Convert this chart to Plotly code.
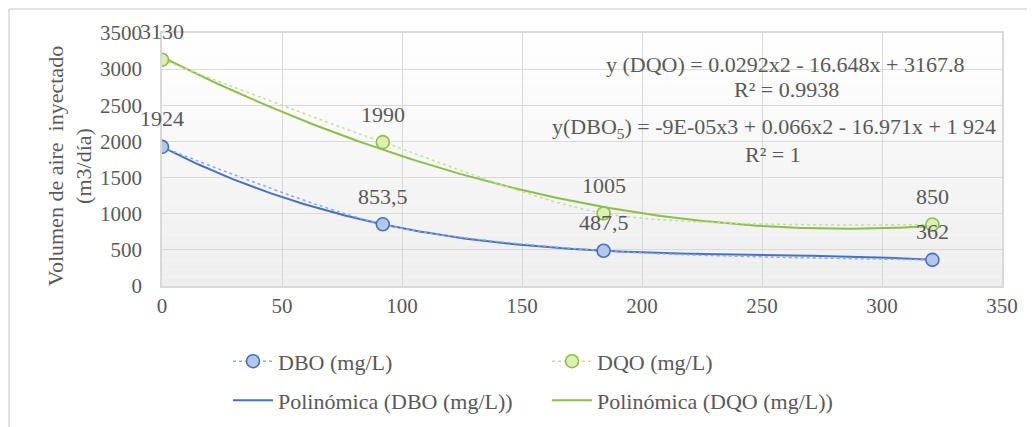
import numpy as np
import plotly.graph_objects as go

# ---- data ----
days = [0, 92, 184, 321]
dbo = [1924, 853.5, 487.5, 362]
dqo = [3130, 1990, 1005, 850]
dbo_labels = ["1924", "853,5", "487,5", "362"]
dqo_labels = ["3130", "1990", "1005", "850"]
x_ticks = [0, 50, 100, 150, 200, 250, 300, 350]
y_ticks = [0, 500, 1000, 1500, 2000, 2500, 3000, 3500]

FONT = "Times New Roman, Liberation Serif, serif"
TXT = "#595959"
BLUE = "#4472C4"
GREEN = "#8DBE45"

# page body has an 8px default margin: plot area placed accordingly
OFF = 8
L, T, PW, PH = 162, 33, 840, 252.7
BOTTOM = T + PH

# polynomial trendlines fitted from the data
xs = np.linspace(min(days), max(days), 300)
p_dbo = np.polyfit(days, dbo, 3)
p_dqo = np.polyfit(days, dqo, 2)

fig = go.Figure()

fig.add_trace(go.Scatter(
    x=xs, y=np.polyval(p_dbo, xs), mode="lines", name="Polinómica (DBO (mg/L))",
    line=dict(color=BLUE, width=2), legend="legend3", showlegend=True))
fig.add_trace(go.Scatter(
    x=xs, y=np.polyval(p_dqo, xs), mode="lines", name="Polinómica (DQO (mg/L))",
    line=dict(color=GREEN, width=2), legend="legend4", showlegend=True))
fig.add_trace(go.Scatter(
    x=days, y=dbo, mode="lines+markers", name="DBO (mg/L)",
    line=dict(color="#8FAADC", width=1.5, dash="dot", shape="spline", smoothing=0.8),
    marker=dict(size=13, color="#B4C7E7", line=dict(color=BLUE, width=1.6)),
    legend="legend", showlegend=True))
fig.add_trace(go.Scatter(
    x=days, y=dqo, mode="lines+markers", name="DQO (mg/L)",
    line=dict(color="#C5DF9B", width=1.5, dash="dot", shape="spline", smoothing=0.8),
    marker=dict(size=13, color="#DDF0B4", line=dict(color=GREEN, width=1.6)),
    legend="legend2", showlegend=True))

lab_font = dict(family=FONT, size=22, color=TXT)
annotations = []
for xv, yv, lab in zip(days, dbo, dbo_labels):
    annotations.append(dict(x=xv, y=yv, text=lab, showarrow=False, yshift=28,
                            xanchor="center", yanchor="middle", font=lab_font))
for xv, yv, lab in zip(days, dqo, dqo_labels):
    annotations.append(dict(x=xv, y=yv, text=lab, showarrow=False, yshift=28,
                            xanchor="center", yanchor="middle", font=lab_font))

def pa(px, py, text, **kw):
    d = dict(xref="paper", yref="paper", x=(px - L) / PW, y=(BOTTOM - py) / PH,
             text=text, showarrow=False, xanchor="center", yanchor="middle",
             font=lab_font)
    d.update(kw)
    return d

annotations += [
    pa(785, 64, "y (DQO) = 0.0292x2 - 16.648x + 3167.8"),
    pa(786, 89, "R² = 0.9938"),
    pa(774, 128, "y(DBO<sub>5</sub>) = -9E-05x3 + 0.066x2 - 16.971x + 1 924"),
    pa(773, 154, "R² = 1"),
    pa(70, 166, "Volumen de aire  inyectado<br>(m3/día)", textangle=-90),
]

# plot-area gradient (white to light gray) and outer chart border
shapes = []
n = 30
for i in range(n):
    t = i / (n - 1)
    c = int(round(255 - (255 - 238) * t))
    shapes.append(dict(type="rect", xref="paper", yref="paper", layer="below",
                       x0=0, x1=1, y0=1 - (i + 1) / n, y1=1 - i / n,
                       line=dict(width=0), fillcolor=f"rgb({c},{c},{c})"))
bx, by = (9 - L) / PW, (BOTTOM - 9) / PH
shapes.append(dict(type="line", xref="paper", yref="paper",
                   x0=bx, x1=bx, y0=by, y1=(BOTTOM - 440) / PH,
                   line=dict(color="#D9D9D9", width=1.5)))
shapes.append(dict(type="line", xref="paper", yref="paper",
                   x0=bx, x1=(1040 - L) / PW, y0=by, y1=by,
                   line=dict(color="#D9D9D9", width=1.5)))

leg_font = dict(family=FONT, size=22, color=TXT)
def leg(xpx, ypx):
    return dict(x=(xpx - L) / PW, y=(BOTTOM - ypx) / PH, xanchor="left",
                yanchor="middle", orientation="v", font=leg_font,
                bgcolor="rgba(0,0,0,0)", itemwidth=40, visible=True)

axis_common = dict(showgrid=True, gridcolor="#D9D9D9", gridwidth=1.3, zeroline=False,
                   showline=True, linecolor="#D9D9D9", linewidth=1.5, mirror=True,
                   ticks="", tickfont=dict(family=FONT, size=21, color=TXT))

fig.update_layout(
    width=1035 - OFF, height=427 - OFF,
    margin=dict(l=L - OFF, r=33, t=T - OFF, b=427 - OFF - (T - OFF) - PH, autoexpand=False),
    paper_bgcolor="white", plot_bgcolor="white",
    font=dict(family=FONT, color=TXT),
    showlegend=True,
    xaxis=dict(range=[0, 350], tickvals=x_ticks, **axis_common),
    yaxis=dict(range=[0, 3500], tickvals=y_ticks, ticklabelstandoff=14, **axis_common),
    annotations=annotations,
    shapes=shapes,
    legend=leg(228, 361),
    legend2=leg(547, 361),
    legend3=leg(228, 400),
    legend4=leg(547, 400),
)

fig.write_html("out.html")
